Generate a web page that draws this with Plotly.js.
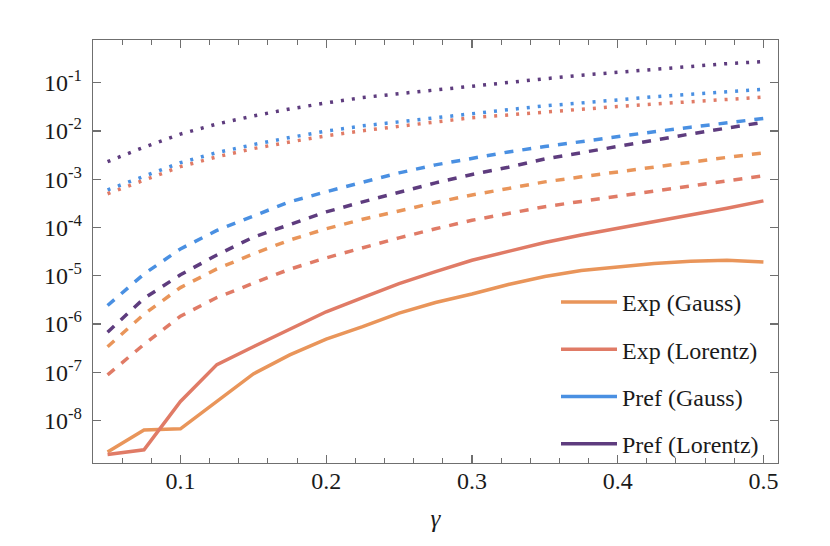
<!DOCTYPE html>
<html>
<head>
<meta charset="utf-8">
<script src="https://cdn.plot.ly/plotly-3.0.1.min.js"></script>
<style>html,body{margin:0;padding:0;background:#fff;}#chart{width:830px;height:546px;}</style>
</head>
<body>
<div id="chart"></div>
<script>
var gamma = [0.05,0.075,0.1,0.125,0.15,0.175,0.2,0.225,0.25,0.275,0.3,0.325,0.35,0.375,0.4,0.425,0.45,0.475,0.5];

// solid lines
var expGaussSolid   = [2.24e-9,6.4e-9,6.8e-9,2.5e-8,9.3e-8,2.3e-7,4.9e-7,8.9e-7,1.69e-6,2.8e-6,4.2e-6,6.6e-6,9.7e-6,1.29e-5,1.55e-5,1.8e-5,2.0e-5,2.1e-5,1.92e-5];
var expLorentzSolid = [2.0e-9,2.5e-9,2.5e-8,1.45e-7,3.4e-7,7.9e-7,1.8e-6,3.55e-6,6.9e-6,1.22e-5,2.1e-5,3.2e-5,4.9e-5,7.0e-5,9.6e-5,1.32e-4,1.8e-4,2.5e-4,3.56e-4];

// dashed lines
var prefGaussDash   = [2.43e-6,1.09e-5,3.6e-5,8.7e-5,1.73e-4,3.4e-4,5.5e-4,8.8e-4,1.35e-3,1.98e-3,2.74e-3,3.67e-3,4.73e-3,6.05e-3,7.69e-3,9.62e-3,1.19e-2,1.47e-2,1.81e-2];
var prefLorentzDash = [6.8e-7,3.4e-6,1.05e-5,2.7e-5,6.3e-5,1.15e-4,2.1e-4,3.4e-4,5.4e-4,8.4e-4,1.25e-3,1.77e-3,2.63e-3,3.5e-3,4.73e-3,6.4e-3,8.65e-3,1.15e-2,1.51e-2];
var expGaussDash    = [3.4e-7,1.6e-6,5.7e-6,1.39e-5,2.84e-5,5.5e-5,9.4e-5,1.48e-4,2.2e-4,3.3e-4,4.7e-4,6.4e-4,8.8e-4,1.12e-3,1.42e-3,1.76e-3,2.23e-3,2.83e-3,3.5e-3];
var expLorentzDash  = [8.9e-8,3.8e-7,1.46e-6,3.55e-6,7.0e-6,1.37e-5,2.35e-5,3.85e-5,6.1e-5,9.4e-5,1.41e-4,1.95e-4,2.7e-4,3.47e-4,4.45e-4,5.65e-4,7.17e-4,9.1e-4,1.17e-3];

// dotted lines
var prefLorentzDot  = [2.31e-3,4.6e-3,8.6e-3,1.39e-2,2.04e-2,2.85e-2,3.8e-2,4.9e-2,5.9e-2,7.1e-2,8.5e-2,0.102,0.12,0.142,0.164,0.185,0.214,0.247,0.271];
var prefGaussDot    = [6.0e-4,1.17e-3,2.2e-3,3.55e-3,5.2e-3,7.3e-3,9.9e-3,1.27e-2,1.55e-2,1.92e-2,2.35e-2,2.75e-2,3.3e-2,3.74e-2,4.37e-2,5.1e-2,5.8e-2,6.6e-2,7.3e-2];
var expLorentzDot   = [5.0e-4,9.7e-4,1.82e-3,2.9e-3,4.3e-3,5.9e-3,7.9e-3,1.01e-2,1.25e-2,1.53e-2,1.88e-2,2.14e-2,2.47e-2,2.75e-2,3.2e-2,3.6e-2,4.0e-2,4.5e-2,5.0e-2];

var legendNames = ['Exp (Gauss)','Exp (Lorentz)','Pref (Gauss)','Pref (Lorentz)'];
var xTickVals = [0.1,0.2,0.3,0.4,0.5];
var xTickText = ['0.1','0.2','0.3','0.4','0.5'];
var yTickVals = [1e-8,1e-7,1e-6,1e-5,1e-4,1e-3,1e-2,1e-1];
var yTickText = ['10<sup>-8</sup>','10<sup>-7</sup>','10<sup>-6</sup>','10<sup>-5</sup>','10<sup>-4</sup>','10<sup>-3</sup>','10<sup>-2</sup>','10<sup>-1</sup>'];

var C = {orange:'#E9955A', red:'#E07B66', blue:'#4A90E2', purple:'#5E3C7E'};
var W = 3.5;
var DASH = '9px,9px';
var DOT = '3px,8px';

function line(y, color, dash){
  return {x: gamma, y: y, type:'scatter', mode:'lines', showlegend:false, hoverinfo:'skip',
          line:{color: color, width: W, dash: dash}};
}
function leg(name, color, g){
  return {x:[null], y:[null], type:'scatter', mode:'lines', name:name, legendgroup:g,
          line:{color: color, width: W}};
}

var traces = [
  line(prefLorentzDot, C.purple, DOT),
  line(prefGaussDot, C.blue, DOT),
  line(expLorentzDot, C.red, DOT),
  line(prefGaussDash, C.blue, DASH),
  line(prefLorentzDash, C.purple, DASH),
  line(expGaussDash, C.orange, DASH),
  line(expLorentzDash, C.red, DASH),
  line(expGaussSolid, C.orange, 'solid'),
  line(expLorentzSolid, C.red, 'solid'),
  leg(legendNames[0], C.orange, 'g1'),
  leg(legendNames[1], C.red, 'g2'),
  leg(legendNames[2], C.blue, 'g3'),
  leg(legendNames[3], C.purple, 'g4')
];

var axisCol = '#6f6f6f';
var font = '"Liberation Serif"';
var txt = '#1a1a1a';

var layout = {
  width: 830, height: 546,
  margin: {l: 93, r: 52, t: 40, b: 83},
  paper_bgcolor: '#fff', plot_bgcolor: '#fff',
  font: {family: font, size: 24, color: txt},
  showlegend: true,
  legend: {
    x: (556-93)/685, xanchor: 'left',
    y: (463-280)/423, yanchor: 'top',
    bgcolor: 'rgba(0,0,0,0)', borderwidth: 0,
    font: {family: font, size: 24, color: txt},
    tracegroupgap: 13, itemwidth: 56, traceorder: 'grouped'
  },
  xaxis: {
    range: [0.04, 0.51], showgrid: false, zeroline: false,
    showline: true, linecolor: axisCol, linewidth: 1.2, mirror: 'ticks',
    ticks: 'inside', ticklen: 8, tickwidth: 1.2, tickcolor: axisCol,
    tickmode: 'array', tickvals: xTickVals, ticktext: xTickText,
    ticklabelstandoff: -4,
    tickfont: {family: font, size: 24, color: txt},
    minor: {tick0: 0, dtick: 0.02, ticks: 'inside', ticklen: 5, tickwidth: 1, tickcolor: axisCol, showgrid: false},
    title: {text: '<i>γ</i>', font: {family: font, size: 25, color: txt}, standoff: 16}
  },
  yaxis: {
    type: 'log', range: [-8.876, -0.118], showgrid: false, zeroline: false,
    showline: true, linecolor: axisCol, linewidth: 1.2, mirror: 'ticks',
    ticks: 'inside', ticklen: 8, tickwidth: 1.2, tickcolor: axisCol,
    tickmode: 'array', tickvals: yTickVals, ticktext: yTickText,
    ticklabelstandoff: 5,
    tickfont: {family: font, size: 24, color: txt}
  }
};

Plotly.newPlot('chart', traces, layout, {staticPlot: true, displayModeBar: false});
</script>
</body>
</html>
